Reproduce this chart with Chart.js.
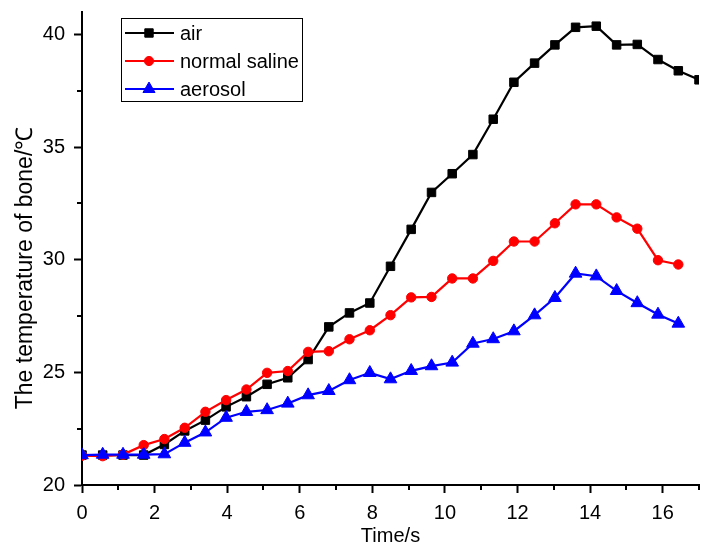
<!DOCTYPE html>
<html>
<head>
<meta charset="utf-8">
<script src="https://cdn.jsdelivr.net/npm/chart.js@4/dist/chart.umd.min.js"></script>
<style>
html,body{margin:0;padding:0;background:#fff;}
#wrap{width:703px;height:546px;}
</style>
</head>
<body>
<div id="wrap"><canvas id="c" width="703" height="546"></canvas></div>
<script>
const timeValues = [0, 0.57, 1.13, 1.7, 2.27, 2.83, 3.4, 3.97, 4.53, 5.1, 5.67, 6.23, 6.8, 7.37, 7.93, 8.5, 9.07, 9.63, 10.2, 10.77, 11.33, 11.9, 12.47, 13.03, 13.6, 14.17, 14.73, 15.3, 15.87, 16.43, 17];
const airValues = [21.33, 21.33, 21.33, 21.33, 21.8, 22.4, 22.88, 23.47, 23.92, 24.47, 24.76, 25.57, 27.02, 27.64, 28.08, 29.71, 31.35, 32.99, 33.82, 34.67, 36.24, 37.88, 38.73, 39.54, 40.32, 40.37, 39.54, 39.56, 38.89, 38.39, 37.99];
const salineValues = [21.3, 21.28, 21.35, 21.77, 22.04, 22.54, 23.25, 23.77, 24.24, 24.98, 25.06, 25.91, 25.94, 26.47, 26.87, 27.54, 28.33, 28.35, 29.17, 29.17, 29.95, 30.81, 30.81, 31.62, 32.46, 32.46, 31.88, 31.38, 29.98, 29.79];
const aerosolValues = [21.33, 21.35, 21.35, 21.35, 21.37, 21.88, 22.34, 22.99, 23.25, 23.33, 23.62, 23.99, 24.18, 24.66, 24.98, 24.7, 25.07, 25.28, 25.44, 26.28, 26.48, 26.83, 27.54, 28.31, 29.39, 29.27, 28.62, 28.08, 27.57, 27.17];
const seriesNames = ["air", "normal saline", "aerosol"];
const xTickLabels = [0, 2, 4, 6, 8, 10, 12, 14, 16];
const yTickLabels = [20, 25, 30, 35, 40];
const xMinorTicks = [1, 3, 5, 7, 9, 11, 13, 15, 17];
const yMinorTicks = [22.5, 27.5, 32.5, 37.5];
const xTitle = "Time/s";
const yTitle = "The temperature of bone/\u2103";

const FONT = "'Liberation Sans', Arial, sans-serif";

function pts(vals){ return vals.map((v,i)=>({x: timeValues[i], y: v})); }

const minorTicksPlugin = {
  id: 'minorTicks',
  afterDraw(chart){
    const ctx = chart.ctx, xs = chart.scales.x, ys = chart.scales.y, a = chart.chartArea;
    ctx.save();
    ctx.strokeStyle = '#000'; ctx.lineWidth = 2;
    ctx.beginPath();
    xMinorTicks.forEach(v=>{ const px = Math.round(xs.getPixelForValue(v)); ctx.moveTo(px, a.bottom); ctx.lineTo(px, a.bottom + 5); });
    yMinorTicks.forEach(v=>{ const py = Math.round(ys.getPixelForValue(v)); ctx.moveTo(a.left, py); ctx.lineTo(a.left - 5, py); });
    ctx.stroke();
    // y title
    ctx.fillStyle = '#000';
    ctx.font = "23px " + FONT;
    ctx.translate(32, 268);
    ctx.rotate(-Math.PI/2);
    ctx.textAlign = 'center'; ctx.textBaseline = 'alphabetic';
    ctx.fillText(yTitle, 0, 0);
    ctx.restore();
  }
};

function drawMarker(ctx, style, x, y, color){
  ctx.fillStyle = color; ctx.strokeStyle = color; ctx.lineWidth = 1;
  ctx.beginPath();
  if (style === 'rect'){ const s = 4.2; ctx.rect(x-s, y-s, 2*s, 2*s); }
  else if (style === 'circle'){ ctx.arc(x, y, 4.6, 0, Math.PI*2); }
  else { const r = 7; ctx.moveTo(x, y-r); ctx.lineTo(x + r*Math.sin(2*Math.PI/3), y + r/2); ctx.lineTo(x - r*Math.sin(2*Math.PI/3), y + r/2); ctx.closePath(); }
  ctx.fill(); ctx.stroke();
}

const legendPlugin = {
  id: 'boxLegend',
  afterDraw(chart){
    const ctx = chart.ctx;
    ctx.save();
    ctx.strokeStyle = '#000'; ctx.lineWidth = 1;
    ctx.strokeRect(121.5, 18.5, 181, 83);
    const rows = [33, 61, 89];
    chart.data.datasets.forEach((ds, i)=>{
      const y = rows[i];
      ctx.strokeStyle = ds.borderColor; ctx.lineWidth = 2;
      ctx.beginPath(); ctx.moveTo(125, y); ctx.lineTo(174, y); ctx.stroke();
      drawMarker(ctx, ds.pointStyle, 149, y, ds.borderColor);
      ctx.fillStyle = '#000';
      ctx.font = "20px " + FONT;
      ctx.textAlign = 'left'; ctx.textBaseline = 'middle';
      ctx.fillText(ds.label, 180, y + 1);
    });
    ctx.restore();
  }
};

new Chart(document.getElementById('c'), {
  type: 'line',
  data: {
    datasets: [
      { label: seriesNames[0], data: pts(airValues), borderColor: '#000000', backgroundColor: '#000000', pointStyle: 'rect', pointRadius: 6, pointBorderWidth: 1, borderWidth: 2.2, order: 3 },
      { label: seriesNames[1], data: pts(salineValues), borderColor: '#ff0000', backgroundColor: '#ff0000', pointStyle: 'circle', pointRadius: 4.7, pointBorderWidth: 1, borderWidth: 2.2, order: 2 },
      { label: seriesNames[2], data: pts(aerosolValues), borderColor: '#0000ff', backgroundColor: '#0000ff', pointStyle: 'triangle', pointRadius: 7.3, pointBorderWidth: 1, borderWidth: 2.2, order: 1 }
    ]
  },
  options: {
    responsive: false,
    animation: false,
    devicePixelRatio: 1,
    layout: { autoPadding: false, padding: { top: 12, right: 4, left: 0, bottom: 0 } },
    plugins: { legend: { display: false }, tooltip: { enabled: false } },
    elements: { line: { tension: 0 } },
    scales: {
      x: {
        type: 'linear', min: 0, max: 17,
        afterFit(s){ s.height = 61; s.paddingLeft = 0; s.paddingRight = 0; },
        border: { display: true, color: '#000', width: 2 },
        grid: { display: true, drawOnChartArea: false, drawTicks: true, tickLength: 8, tickWidth: 2, tickColor: '#000' },
        ticks: {
          stepSize: 2, includeBounds: false, color: '#000', padding: 8, maxRotation: 0,
          font: { family: FONT, size: 20 },
          callback: (v)=> xTickLabels.includes(v) ? String(v) : ''
        },
        title: { display: true, text: xTitle, color: '#000', font: { family: FONT, size: 20 }, padding: { top: 0, bottom: -2 } }
      },
      y: {
        type: 'linear', min: 20, max: 41,
        afterFit(s){ s.width = 82; s.paddingTop = 0; s.paddingBottom = 0; },
        border: { display: true, color: '#000', width: 2 },
        grid: { display: true, drawOnChartArea: false, drawTicks: true, tickLength: 8, tickWidth: 2, tickColor: '#000' },
        ticks: {
          stepSize: 5, includeBounds: false, color: '#000', padding: 9,
          font: { family: FONT, size: 20 },
          callback: (v)=> yTickLabels.includes(v) ? String(v) : ''
        }
      }
    }
  },
  plugins: [minorTicksPlugin, legendPlugin]
});
</script>
</body>
</html>
